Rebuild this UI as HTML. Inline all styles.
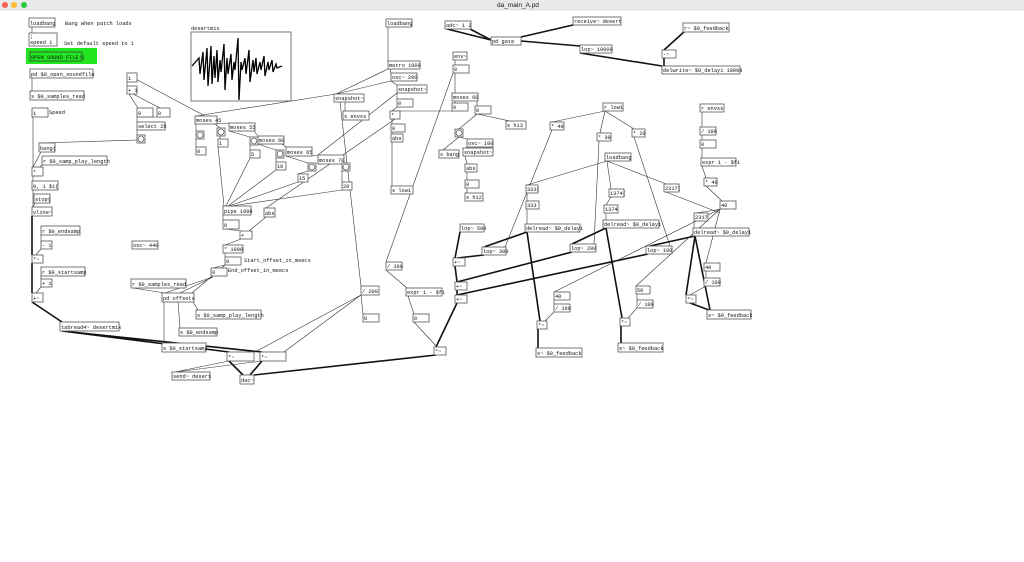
<!DOCTYPE html>
<html><head><meta charset="utf-8"><style>
html,body{margin:0;padding:0;background:#fff;}
svg{display:block;}
text{font-family:"Liberation Mono",monospace;font-size:5.3px;fill:#111;}
.b{fill:#fff;stroke:#555;stroke-width:0.8;}
.t{stroke:#333;stroke-width:0.6;fill:none;}
.s{stroke:#111;stroke-width:1.6;fill:none;}
</style></head><body>
<svg width="1024" height="562" viewBox="0 0 1024 562" xmlns="http://www.w3.org/2000/svg">
<rect x="0" y="0" width="1024" height="10" fill="#e9e9e9"/>
<line x1="0" y1="10" x2="1024" y2="10" stroke="#ccc" stroke-width="0.5"/>
<circle cx="5" cy="5" r="3" fill="#fc5f57"/><circle cx="14" cy="5" r="3" fill="#fdbc2e"/><circle cx="24" cy="5" r="3" fill="#29c940"/>
<text x="497" y="7" style="font-family:'Liberation Sans',sans-serif;font-size:6.5px">da_main_A.pd</text>

<g class="s">
<path d="M32 216L32 255M32 263L32 293M32 302L62 322M62 331L229 352M62 331L262 352M229 361L243 375M262 361L250 375M436 355L254 375"/>
<path d="M447 29L491 40M470 29L491 40M573 25L521 37M521 41L580 46M580 53L662 66M685 31L664 50M664 58L664 66"/>
<path d="M527 232L540 321M527 232L484 247M460 232L455 258M484 255L457 258M455 266L457 282M572 252L457 282M648 254L457 295M457 290L457 295M457 303L436 347M606 228L572 244M606 228L622 318M695 236L686 295M695 236L650 246M695 236L710 310M690 303L709 310M538 329L538 348M621 326L621 343"/>
</g>
<g class="t">
<path d="M32 27L32 33M32 78L32 91M33 117L33 167M41 152L33 167M42 165L40 167M33 176L33 181M33 190L33 207M35 203L33 207M41 235L41 241M41 249L36 255M41 276L41 279M41 287L36 293M137 140L40 143"/>
<path d="M127 82L127 86M129 94L138 108M133 94L160 108M157 117L140 117M137 117L137 122M137 130L137 135M130 76L205 116M336 94L196 116M388 69L336 94M391 81L336 94"/>
<path d="M196 124L196 131M215 124L220 128M215 124L229 123M229 131L250 137M254 131L258 136M258 144L276 150M282 144L286 147M286 156L308 163M312 156L318 155M318 164L342 163M196 139L196 147M220 136L220 139M250 145L250 150M276 158L276 162M308 171L298 174M342 171L342 182"/>
<path d="M218 147L224 206M250 158L226 206M276 170L228 206M298 182L229 206M342 190L231 206M397 93L318 155M395 119L266 208M223 215L223 220M226 229L241 231M266 217L249 231M241 239L225 245M225 253L225 257M225 265L213 268M213 277L165 293M213 277L180 293M225 265L192 293M133 288L165 293M164 302L164 343M178 302L180 328M193 302L198 310"/>
<path d="M361 295L255 352M361 295L284 352M361 295L363 314M340 102L361 286M345 102L345 111M229 361L175 372M262 361L175 372"/>
<path d="M388 27L388 61M390 69L391 73M391 81L397 85M397 93L397 99M397 107L392 111M392 119L392 124M392 132L392 134M392 142L392 186M453 73L386 262M453 111L394 111"/>
<path d="M455 60L455 65M455 73L455 93M455 101L455 103M477 101L477 106M477 114L510 121M477 114L459 129M459 137L443 150M459 137L467 139M469 147L465 148M465 156L467 164M467 172L467 180M467 188L467 193"/>
<path d="M605 111L552 122M605 111L600 133M605 111L634 129M552 130L505 247M599 141L594 244M634 137L670 246M607 161L527 185M607 161L611 189M607 161L666 184M611 197L606 205M666 192L720 213M527 193L527 201M527 209L527 224M606 213L606 220"/>
<path d="M702 112L702 127M702 135L702 140M702 148L702 158M702 166L706 178M706 186L722 201M722 209L696 213M720 209L554 292M720 209L636 286M720 209L706 263M694 221L694 228M706 271L706 278M706 286L690 295M554 300L554 304M554 312L545 321M637 294L637 300M637 308L628 318M386 270L407 288M408 296L414 314M414 322L437 347"/>
</g>

<text x="65" y="25">Bang when patch loads</text>
<text x="64" y="45">Set default speed to 1</text>
<text x="49" y="114">Speed</text>
<text x="191" y="30">desertmix</text>
<text x="244" y="262">Start_offset_in_msecs</text>
<text x="228" y="272">End_offset_in_msecs</text>

<rect x="191" y="32" width="100" height="69" class="b"/>
<path d="M192 66 L199 58 L200 74 L203 52 L204 80 L207 48 L208 86 L211 46 L212 84 L214 56 L215 78 L217 50 L218 82 L220 60 L221 72 L224 44 L225 90 L227 58 L228 74 L231 54 L232 80 L234 62 L235 70 L238 38 L239 100 L241 62 L242 70 L245 58 L246 74 L249 50 L250 82 L253 60 L254 72 L256 58 L257 74 L260 62 L261 70 L264 56 L265 76 L268 62 L269 70 L272 60 L273 72 L276 64 L277 68 L282 66" stroke="#000" stroke-width="1.3" fill="none"/>

<rect x="26" y="48" width="71" height="16" fill="#22e622"/>
<rect x="30" y="52" width="52" height="9" fill="none" stroke="#333" stroke-width="0.7"/>
<text x="31" y="59">OPEN SOUND FILE!(</text>

<g>
<rect class="b" x="29" y="18" width="26" height="9"/><text x="30" y="25">loadbang</text>
<rect class="b" x="29" y="33" width="28" height="13"/><text x="30" y="38">;</text><text x="30" y="44">speed 1</text>
<rect class="b" x="30" y="69" width="63" height="9"/><text x="31" y="76">pd $0_open_soundfile</text>
<rect class="b" x="30" y="91" width="54" height="9"/><text x="31" y="98">s $0_samples_read</text>
<rect class="b" x="32" y="108" width="16" height="9"/><text x="33" y="115">1</text>
<rect class="b" x="39" y="143" width="16" height="9"/><text x="40" y="150">bang(</text>
<rect class="b" x="42" y="156" width="65" height="9"/><text x="43" y="163">r $0_samp_play_length</text>
<rect class="b" x="32" y="167" width="11" height="9"/><text x="33" y="174">*</text>
<rect class="b" x="32" y="181" width="26" height="9"/><text x="33" y="188">0, 1 $1(</text>
<rect class="b" x="34" y="194" width="16" height="9"/><text x="35" y="201">stop(</text>
<rect class="b" x="32" y="207" width="20" height="9"/><text x="33" y="214">vline~</text>
<rect class="b" x="41" y="226" width="39" height="9"/><text x="42" y="233">r $0_endsamp</text>
<rect class="b" x="41" y="241" width="11" height="8"/><text x="42" y="247">- 1</text>
<rect class="b" x="32" y="255" width="11" height="8"/><text x="33" y="261">*~</text>
<rect class="b" x="41" y="267" width="44" height="9"/><text x="42" y="274">r $0_startsamp</text>
<rect class="b" x="41" y="279" width="11" height="8"/><text x="42" y="285">+ 1</text>
<rect class="b" x="32" y="293" width="11" height="9"/><text x="33" y="300">+~</text>
<rect class="b" x="60" y="322" width="59" height="9"/><text x="61" y="329">tabread4~ desertmix</text>
<rect class="b" x="132" y="241" width="26" height="8"/><text x="133" y="247">osc~ 440</text>
<rect class="b" x="131" y="279" width="55" height="9"/><text x="132" y="286">r $0_samples_read</text>
<rect class="b" x="162" y="293" width="32" height="9"/><text x="163" y="300">pd offsets</text>
<rect class="b" x="196" y="310" width="65" height="9"/><text x="197" y="317">s $0_samp_play_length</text>
<rect class="b" x="179" y="328" width="38" height="8"/><text x="180" y="334">s $0_endsamp</text>
<rect class="b" x="162" y="343" width="44" height="9"/><text x="163" y="350">s $0_startsamp</text>
<rect class="b" x="227" y="352" width="27" height="9"/><text x="228" y="359">*~</text>
<rect class="b" x="260" y="352" width="26" height="9"/><text x="261" y="359">*~</text>
<rect class="b" x="172" y="372" width="38" height="8"/><text x="173" y="378">send~ desert</text>
<rect class="b" x="240" y="375" width="14" height="9"/><text x="241" y="382">dac~</text>

<rect class="b" x="127" y="73" width="10" height="9"/><text x="128" y="80">1</text>
<rect class="b" x="127" y="86" width="10" height="8"/><text x="128" y="92">+ 1</text>
<rect class="b" x="137" y="108" width="16" height="9"/><text x="138" y="115">0</text>
<rect class="b" x="157" y="108" width="13" height="9"/><text x="158" y="115">0</text>
<rect class="b" x="137" y="122" width="28" height="8"/><text x="138" y="128">select 25</text>
<rect class="b" x="137" y="135" width="8" height="8"/><circle cx="141" cy="139" r="3" fill="none" stroke="#333" stroke-width="0.6"/>

<rect class="b" x="195" y="116" width="22" height="8"/><text x="196" y="122">moses 45</text>
<rect class="b" x="229" y="123" width="26" height="8"/><text x="230" y="129">moses 55</text>
<rect class="b" x="258" y="136" width="26" height="8"/><text x="259" y="142">moses 60</text>
<rect class="b" x="286" y="147" width="26" height="9"/><text x="287" y="154">moses 65</text>
<rect class="b" x="318" y="155" width="26" height="9"/><text x="319" y="162">moses 70</text>
<rect class="b" x="196" y="131" width="8" height="8"/><circle cx="200" cy="135" r="3" fill="none" stroke="#333" stroke-width="0.6"/>
<rect class="b" x="217" y="128" width="8" height="8"/><circle cx="221" cy="132" r="3" fill="none" stroke="#333" stroke-width="0.6"/>
<rect class="b" x="250" y="137" width="8" height="8"/><circle cx="254" cy="141" r="3" fill="none" stroke="#333" stroke-width="0.6"/>
<rect class="b" x="276" y="150" width="8" height="8"/><circle cx="280" cy="154" r="3" fill="none" stroke="#333" stroke-width="0.6"/>
<rect class="b" x="308" y="163" width="8" height="8"/><circle cx="312" cy="167" r="3" fill="none" stroke="#333" stroke-width="0.6"/>
<rect class="b" x="342" y="163" width="8" height="8"/><circle cx="346" cy="167" r="3" fill="none" stroke="#333" stroke-width="0.6"/>
<rect class="b" x="196" y="147" width="10" height="8"/><text x="197" y="153">0</text>
<rect class="b" x="218" y="139" width="10" height="8"/><text x="219" y="145">1</text>
<rect class="b" x="250" y="150" width="10" height="8"/><text x="251" y="156">5</text>
<rect class="b" x="276" y="162" width="10" height="8"/><text x="277" y="168">10</text>
<rect class="b" x="298" y="174" width="10" height="8"/><text x="299" y="180">15</text>
<rect class="b" x="342" y="182" width="10" height="8"/><text x="343" y="188">20</text>
<rect class="b" x="223" y="206" width="28" height="9"/><text x="224" y="213">pipe 1000</text>
<rect class="b" x="264" y="208" width="11" height="9"/><text x="265" y="215">abs</text>
<rect class="b" x="223" y="220" width="16" height="9"/><text x="224" y="227">0</text>
<rect class="b" x="240" y="231" width="12" height="8"/><text x="241" y="237">+</text>
<rect class="b" x="223" y="245" width="20" height="8"/><text x="224" y="251">* 1000</text>
<rect class="b" x="225" y="257" width="16" height="8"/><text x="226" y="263">0</text>
<rect class="b" x="211" y="268" width="16" height="8"/><text x="212" y="274">0</text>

<rect class="b" x="334" y="94" width="30" height="8"/><text x="335" y="100">snapshot~</text>
<rect class="b" x="343" y="111" width="26" height="9"/><text x="344" y="118">s envss</text>
<rect class="b" x="361" y="286" width="18" height="9"/><text x="362" y="293">/ 200</text>
<rect class="b" x="363" y="314" width="16" height="8"/><text x="364" y="320">0</text>

<rect class="b" x="386" y="19" width="26" height="8"/><text x="387" y="25">loadbang</text>
<rect class="b" x="388" y="61" width="32" height="8"/><text x="389" y="67">metro 1000</text>
<rect class="b" x="391" y="73" width="26" height="8"/><text x="392" y="79">osc~ 200</text>
<rect class="b" x="397" y="85" width="30" height="8"/><text x="398" y="91">snapshot~</text>
<rect class="b" x="397" y="99" width="16" height="8"/><text x="398" y="105">0</text>
<rect class="b" x="390" y="111" width="10" height="8"/><text x="391" y="117">*</text>
<rect class="b" x="391" y="124" width="14" height="8"/><text x="392" y="130">0</text>
<rect class="b" x="391" y="134" width="12" height="8"/><text x="392" y="140">abs</text>
<rect class="b" x="391" y="186" width="22" height="8"/><text x="392" y="192">s low1</text>

<rect class="b" x="445" y="21" width="26" height="8"/><text x="446" y="27">adc~ 1 2</text>
<rect class="b" x="453" y="52" width="14" height="8"/><text x="454" y="58">env~</text>
<rect class="b" x="453" y="65" width="16" height="8"/><text x="454" y="71">0</text>
<rect class="b" x="452" y="93" width="26" height="8"/><text x="453" y="99">moses 60</text>
<rect class="b" x="452" y="103" width="16" height="8"/><text x="453" y="109">0</text>
<rect class="b" x="475" y="106" width="16" height="8"/><text x="476" y="112">0</text>
<rect class="b" x="506" y="121" width="20" height="8"/><text x="507" y="127">s hi3</text>
<rect class="b" x="455" y="129" width="8" height="8"/><circle cx="459" cy="133" r="3" fill="none" stroke="#333" stroke-width="0.6"/>
<rect class="b" x="467" y="139" width="26" height="8"/><text x="468" y="145">osc~ 100</text>
<rect class="b" x="439" y="150" width="20" height="8"/><text x="440" y="156">s bang</text>
<rect class="b" x="463" y="148" width="30" height="8"/><text x="464" y="154">snapshot~</text>
<rect class="b" x="465" y="164" width="12" height="8"/><text x="466" y="170">abs</text>
<rect class="b" x="465" y="180" width="14" height="8"/><text x="466" y="186">0</text>
<rect class="b" x="465" y="193" width="18" height="8"/><text x="466" y="199">s hi2</text>

<rect class="b" x="491" y="37" width="30" height="8"/><text x="492" y="43">pd gate</text>
<rect class="b" x="573" y="17" width="48" height="8"/><text x="574" y="23">receive~ desert</text>
<rect class="b" x="580" y="45" width="32" height="8"/><text x="581" y="51">lop~ 10000</text>
<rect class="b" x="683" y="23" width="46" height="9"/><text x="684" y="30">r~ $0_feedback</text>
<rect class="b" x="662" y="50" width="14" height="8"/><text x="663" y="56">-~</text>
<rect class="b" x="662" y="66" width="78" height="8"/><text x="663" y="72">delwrite~ $0_delay1 10000</text>

<rect class="b" x="603" y="103" width="20" height="8"/><text x="604" y="109">r low1</text>
<rect class="b" x="550" y="122" width="14" height="8"/><text x="551" y="128">* 40</text>
<rect class="b" x="597" y="133" width="14" height="8"/><text x="598" y="139">* 30</text>
<rect class="b" x="632" y="129" width="13" height="8"/><text x="633" y="135">* 20</text>
<rect class="b" x="605" y="153" width="26" height="8"/><text x="606" y="159">loadbang</text>
<rect class="b" x="526" y="185" width="12" height="8"/><text x="527" y="191">333(</text>
<rect class="b" x="526" y="201" width="13" height="8"/><text x="527" y="207">333</text>
<rect class="b" x="609" y="189" width="15" height="8"/><text x="610" y="195">1374(</text>
<rect class="b" x="604" y="205" width="14" height="8"/><text x="605" y="211">1374</text>
<rect class="b" x="664" y="184" width="15" height="8"/><text x="665" y="190">2317(</text>

<rect class="b" x="700" y="104" width="24" height="8"/><text x="701" y="110">r envss</text>
<rect class="b" x="700" y="127" width="16" height="8"/><text x="701" y="133">/ 100</text>
<rect class="b" x="700" y="140" width="16" height="8"/><text x="701" y="146">0</text>
<rect class="b" x="701" y="158" width="35" height="8"/><text x="702" y="164">expr 1 - $f1</text>
<rect class="b" x="704" y="178" width="13" height="8"/><text x="705" y="184">* 40</text>
<rect class="b" x="720" y="201" width="16" height="8"/><text x="721" y="207">40</text>
<rect class="b" x="694" y="213" width="14" height="8"/><text x="695" y="219">2317</text>
<rect class="b" x="693" y="228" width="56" height="8"/><text x="694" y="234">delread~ $0_delay1</text>

<rect class="b" x="460" y="224" width="24" height="8"/><text x="461" y="230">lop~ 500</text>
<rect class="b" x="525" y="224" width="55" height="8"/><text x="526" y="230">delread~ $0_delay1</text>
<rect class="b" x="482" y="247" width="24" height="8"/><text x="483" y="253">lop~ 300</text>
<rect class="b" x="570" y="244" width="26" height="8"/><text x="571" y="250">lop~ 200</text>
<rect class="b" x="646" y="246" width="26" height="8"/><text x="647" y="252">lop~ 100</text>
<rect class="b" x="603" y="220" width="56" height="8"/><text x="604" y="226">delread~ $0_delay1</text>
<rect class="b" x="453" y="258" width="12" height="8"/><text x="454" y="264">+~</text>
<rect class="b" x="455" y="282" width="12" height="8"/><text x="456" y="288">+~</text>
<rect class="b" x="455" y="295" width="12" height="8"/><text x="456" y="301">+~</text>
<rect class="b" x="386" y="262" width="16" height="8"/><text x="387" y="268">/ 100</text>
<rect class="b" x="406" y="288" width="36" height="8"/><text x="407" y="294">expr 1 - $f1</text>
<rect class="b" x="413" y="314" width="16" height="8"/><text x="414" y="320">0</text>
<rect class="b" x="434" y="347" width="12" height="8"/><text x="435" y="353">*~</text>

<rect class="b" x="554" y="292" width="16" height="8"/><text x="555" y="298">40</text>
<rect class="b" x="554" y="304" width="16" height="8"/><text x="555" y="310">/ 100</text>
<rect class="b" x="537" y="321" width="10" height="8"/><text x="538" y="327">*~</text>
<rect class="b" x="536" y="348" width="46" height="9"/><text x="537" y="355">s~ $0_feedback</text>
<rect class="b" x="636" y="286" width="14" height="8"/><text x="637" y="292">50</text>
<rect class="b" x="637" y="300" width="16" height="8"/><text x="638" y="306">/ 100</text>
<rect class="b" x="620" y="318" width="10" height="8"/><text x="621" y="324">*~</text>
<rect class="b" x="618" y="343" width="45" height="9"/><text x="619" y="350">s~ $0_feedback</text>
<rect class="b" x="704" y="263" width="16" height="8"/><text x="705" y="269">40</text>
<rect class="b" x="704" y="278" width="16" height="8"/><text x="705" y="284">/ 100</text>
<rect class="b" x="686" y="295" width="10" height="8"/><text x="687" y="301">*~</text>
<rect class="b" x="707" y="310" width="44" height="9"/><text x="708" y="317">s~ $0_feedback</text>
</g>
</svg>
</body></html>
